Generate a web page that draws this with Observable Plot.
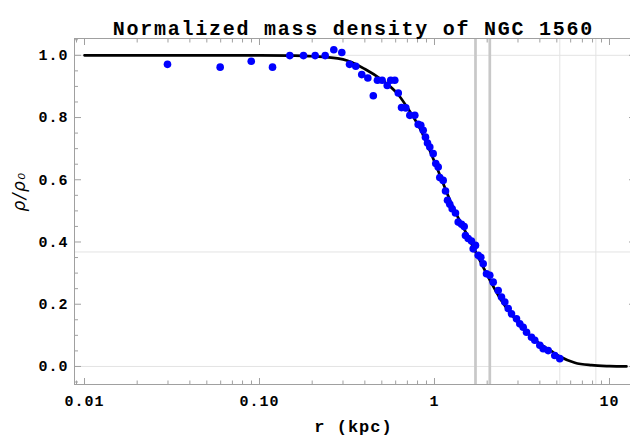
<!DOCTYPE html>
<html><head><meta charset="utf-8">
<script src="https://cdn.jsdelivr.net/npm/d3@7"></script>
<script src="https://cdn.jsdelivr.net/npm/@observablehq/plot@0.6"></script>
<style>
html,body{margin:0;padding:0;background:#fff;overflow:hidden;}
#chart svg text{letter-spacing:1px;}
</style></head><body><div id="chart"></div>
<script>
const titleText = "Normalized mass density of NGC 1560";
const xLabel = "r (kpc)";
const yLabel = "ρ/ρ₀";

// observed points (r in kpc, normalized density)
const pointR = [0.0298,0.0596,0.0897,0.1187,0.149,0.1784,0.208,0.2373,0.2658,0.2953,
  0.327,0.355,0.384,0.416,0.447,0.472,0.502,0.537,0.562,0.593,0.621,0.648,0.686,
  0.723,0.772,0.807,0.835,0.862,0.888,0.912,0.940,0.983,1.017,1.050,1.072,1.121,1.156,1.187,1.223,1.262,1.318,
  1.366,1.427,1.478,1.503,1.558,1.627,1.664,1.715,1.777,1.839,1.898,1.982,2.070,2.165,2.312,2.415,2.522,2.638,
  2.754,2.942,3.072,3.213,3.357,3.584,3.742,3.998,4.180,4.465,4.868,5.200];
const pointRho = [0.971,0.962,0.981,0.962,0.999,0.999,0.999,0.999,1.018,1.009,
  0.971,0.965,0.938,0.927,0.870,0.920,0.920,0.903,0.920,0.920,0.879,0.832,0.831,
  0.807,0.807,0.778,0.775,0.759,0.737,0.718,0.705,0.684,0.652,0.641,0.607,0.598,0.564,0.534,0.521,0.507,0.493,
  0.464,0.457,0.450,0.421,0.411,0.403,0.378,0.389,0.357,0.351,0.330,0.298,0.293,0.271,0.244,0.223,0.207,0.186,
  0.169,0.153,0.137,0.126,0.110,0.094,0.084,0.068,0.057,0.051,0.035,0.025];

// fitted profile
const curveR = [0.01,0.05,0.1,0.15,0.2,0.3,0.4,0.5,0.62,0.707,0.824,1.0,1.25,1.56,1.74,2.03,2.41,3.0,3.74,4.66,5.2,6.34,7.9,10,12.5];
const curveRho = [1,1,1,0.999,0.997,0.987,0.956,0.921,0.874,0.828,0.766,0.658,0.523,0.415,0.362,0.287,0.212,0.142,0.086,0.049,0.032,0.012,0.004,0.001,0.0];

const markerR = [1.715, 2.07];
const gridR = [5.2, 8.36];
const gridRho = [0, 0.3679, 1];

const xMajor = [0.01, 0.1, 1, 10];
const xMajorLabels = ["0.01", "0.10", "1", "10"];
const xMinor = [0.009,0.02,0.03,0.04,0.05,0.06,0.07,0.08,0.09,0.2,0.3,0.4,0.5,0.6,0.7,0.8,0.9,2,3,4,5,6,7,8,9];
const yMajor = [0, 0.2, 0.4, 0.6, 0.8, 1.0];
const yMajorLabels = ["0.0", "0.2", "0.4", "0.6", "0.8", "1.0"];
const yMinor = [-0.05,0.05,0.1,0.15,0.25,0.3,0.35,0.45,0.5,0.55,0.65,0.7,0.75,0.85,0.9,0.95,1.05];

const points = pointR.map((r, i) => ({r, rho: pointRho[i]}));
const curve = curveR.map((r, i) => ({r, rho: curveRho[i]}));
const xFmt = new Map(xMajor.map((v, i) => [v, xMajorLabels[i]]));
const yFmt = new Map(yMajor.map((v, i) => [v, yMajorLabels[i]]));

const frameColor = "#a0a0a0";
const mono = "Liberation Mono";

const chart = Plot.plot({
  width: 630,
  height: 442,
  marginLeft: 74,
  marginRight: -5,
  marginTop: 38,
  marginBottom: 58,
  x: {type: "log", domain: [0.008767, 14.08]},
  y: {domain: [-0.058, 1.054]},
  marks: [
    Plot.ruleY(gridRho, {stroke: "#e3e3e3", strokeWidth: 1}),
    Plot.ruleX(gridR, {stroke: "#e3e3e3", strokeWidth: 1}),
    Plot.ruleX(markerR, {stroke: "#c8c8c8", strokeWidth: 2.7}),
    Plot.line(curve, {x: "r", y: "rho", stroke: "black", strokeWidth: 2.7, curve: "monotone-x"}),
    Plot.dot(points, {x: "r", y: "rho", r: 3.8, fill: "#0000ff", stroke: "none"}),
    Plot.frame({stroke: frameColor}),
    Plot.axisX(xMajor, {anchor: "bottom", tickSize: -6, tickPadding: 17, tickFormat: d => xFmt.get(d),
      stroke: frameColor, fill: "black", fontSize: 15, fontWeight: "bold", fontFamily: mono, label: null}),
    Plot.axisX(xMinor, {anchor: "bottom", tickSize: -3.5, fill: "none", stroke: frameColor, label: null}),
    Plot.axisX(xMajor, {anchor: "top", tickSize: -6, fill: "none", stroke: frameColor, label: null}),
    Plot.axisX(xMinor, {anchor: "top", tickSize: -3.5, fill: "none", stroke: frameColor, label: null}),
    Plot.axisY(yMajor, {anchor: "left", tickSize: -7, tickPadding: 13, tickFormat: d => yFmt.get(d),
      stroke: frameColor, fill: "black", fontSize: 15, fontWeight: "bold", fontFamily: mono, label: null}),
    Plot.axisY(yMinor, {anchor: "left", tickSize: -4, fill: "none", stroke: frameColor, label: null}),
    Plot.axisY(yMajor, {anchor: "right", tickSize: -7, fill: "none", stroke: frameColor, label: null}),
    Plot.axisY(yMinor, {anchor: "right", tickSize: -4, fill: "none", stroke: frameColor, label: null}),
    Plot.text([titleText], {frameAnchor: "top", dx: -1.6, dy: -17.4, fontSize: 20, fontWeight: "bold", fontFamily: mono}),
    Plot.text([xLabel], {frameAnchor: "bottom", dx: -1.5, dy: 47, fontSize: 17, fontWeight: "bold", fontFamily: mono}),
    Plot.text([yLabel], {frameAnchor: "left", dx: -55, rotate: -90, fontSize: 17, fontStyle: "italic", fontFamily: "DejaVu Sans"})
  ]
});
document.getElementById("chart").appendChild(chart);
chart.querySelectorAll("text").forEach(t => {
  if (t.textContent === titleText) t.style.letterSpacing = "1.75px";
  if (t.textContent === yLabel) t.style.letterSpacing = "1.5px";
});
</script></body></html>
